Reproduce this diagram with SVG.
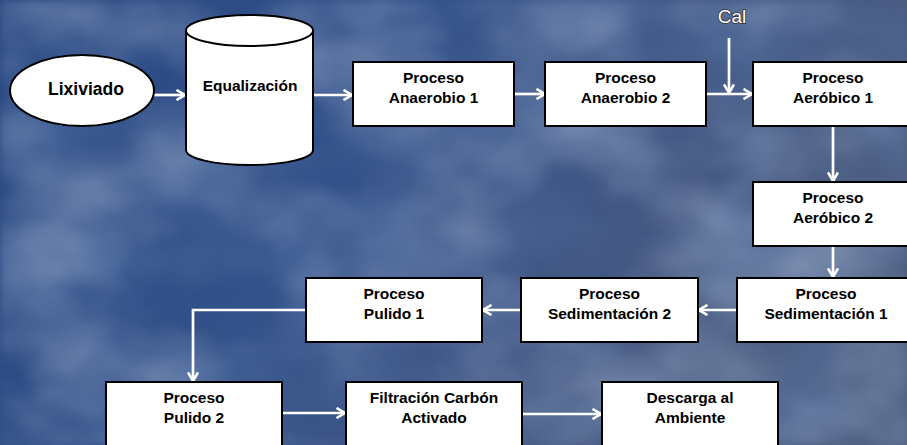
<svg xmlns="http://www.w3.org/2000/svg" width="907" height="445" viewBox="0 0 907 445">
  <defs>
    <linearGradient id="sky" x1="0" y1="0" x2="1" y2="0.3">
      <stop offset="0" stop-color="#26457f"/>
      <stop offset="0.45" stop-color="#34528a"/>
      <stop offset="0.8" stop-color="#445883"/>
      <stop offset="1" stop-color="#4d5e82"/>
    </linearGradient>
    <filter id="lightClouds" x="0" y="0" width="100%" height="100%">
      <feTurbulence type="fractalNoise" baseFrequency="0.006 0.009" numOctaves="4" seed="7"/>
      <feColorMatrix type="matrix" values="0 0 0 0 0.40  0 0 0 0 0.49  0 0 0 0 0.66  1.5 0 0 0 -0.62"/>
      <feGaussianBlur stdDeviation="4"/>
    </filter>
    <filter id="darkClouds" x="0" y="0" width="100%" height="100%">
      <feTurbulence type="fractalNoise" baseFrequency="0.007 0.01" numOctaves="3" seed="23"/>
      <feColorMatrix type="matrix" values="0 0 0 0 0.10  0 0 0 0 0.19  0 0 0 0 0.40  1.5 0 0 0 -0.62"/>
      <feGaussianBlur stdDeviation="4"/>
    </filter>
    <marker id="arrow" viewBox="0 0 12 12" refX="10.5" refY="6" markerWidth="12" markerHeight="12" markerUnits="userSpaceOnUse" orient="auto">
      <path d="M2,1 L10.5,6 L2,11" fill="none" stroke="#ffffff" stroke-width="2.6"/>
    </marker>
    <style>
      .box { fill: #ffffff; stroke: #000000; stroke-width: 2; }
      .lbl { font-family: "Liberation Sans", Arial, sans-serif; font-weight: bold; font-size: 15.5px; fill: #000000; text-anchor: middle; }
      .big { font-size: 17.5px; }
      .flow { fill: none; stroke: #ffffff; stroke-width: 2.7; marker-end: url(#arrow); }
      .cal { font-family: "Liberation Sans", Arial, sans-serif; font-size: 19px; fill: #ffffff; stroke: #333333; stroke-width: 1.6; paint-order: stroke; text-anchor: middle; }
    </style>
  </defs>

  <!-- cloudy blue backdrop -->
  <rect x="0" y="0" width="907" height="445" fill="url(#sky)"/>
  <rect x="0" y="0" width="907" height="445" filter="url(#darkClouds)" opacity="0.8"/>
  <rect x="0" y="0" width="907" height="445" filter="url(#lightClouds)" opacity="0.8"/>

  <!-- connectors -->
  <g id="connectors">
    <line class="flow" x1="154" y1="95" x2="185" y2="95"/>
    <line class="flow" x1="313" y1="95" x2="352" y2="95"/>
    <line class="flow" x1="514" y1="94" x2="545" y2="94"/>
    <line class="flow" x1="706" y1="94" x2="752" y2="94"/>
    <line class="flow" x1="729" y1="38" x2="729" y2="93"/>
    <line class="flow" x1="833" y1="126" x2="833" y2="181"/>
    <line class="flow" x1="833" y1="246" x2="833" y2="277"/>
    <line class="flow" x1="737" y1="310" x2="699" y2="310"/>
    <line class="flow" x1="521" y1="310" x2="483" y2="310"/>
    <polyline class="flow" points="306,310 193,310 193,381"/>
    <line class="flow" x1="282" y1="413" x2="345" y2="413"/>
    <line class="flow" x1="522" y1="414" x2="601" y2="414"/>
  </g>

  <text class="cal" x="732" y="23">Cal</text>

  <g id="lixiviado">
    <ellipse class="box" cx="82" cy="90.5" rx="72" ry="35.5"/>
    <text class="lbl big" x="86" y="95">Lixiviado</text>
  </g>

  <g id="equalizacion">
    <path class="box" d="M186,30.5 L186,150 A63.5,15 0 0 0 313,150 L313,30.5 A63.5,15.5 0 0 0 186,30.5 Z"/>
    <path d="M186,30.5 A63.5,15.5 0 0 0 313,30.5" fill="none" stroke="#000000" stroke-width="2"/>
    <text class="lbl" x="250" y="91">Equalización</text>
  </g>

  <g id="anaerobio1">
    <rect class="box" x="353" y="62" width="161" height="64"/>
    <text class="lbl" x="433.5" y="83">Proceso</text>
    <text class="lbl" x="433.5" y="103">Anaerobio 1</text>
  </g>

  <g id="anaerobio2">
    <rect class="box" x="545" y="62" width="161" height="64"/>
    <text class="lbl" x="625.5" y="83">Proceso</text>
    <text class="lbl" x="625.5" y="103">Anaerobio 2</text>
  </g>

  <g id="aerobico1">
    <rect class="box" x="753" y="62" width="161" height="64"/>
    <text class="lbl" x="833" y="83">Proceso</text>
    <text class="lbl" x="833" y="103">Aeróbico 1</text>
  </g>

  <g id="aerobico2">
    <rect class="box" x="753" y="182" width="161" height="64"/>
    <text class="lbl" x="833" y="203">Proceso</text>
    <text class="lbl" x="833" y="223">Aeróbico 2</text>
  </g>

  <g id="sedimentacion1">
    <rect class="box" x="737" y="278" width="177" height="64"/>
    <text class="lbl" x="826" y="299">Proceso</text>
    <text class="lbl" x="826" y="319">Sedimentación 1</text>
  </g>

  <g id="sedimentacion2">
    <rect class="box" x="521" y="278" width="177" height="64"/>
    <text class="lbl" x="609.5" y="299">Proceso</text>
    <text class="lbl" x="609.5" y="319">Sedimentación 2</text>
  </g>

  <g id="pulido1">
    <rect class="box" x="306" y="278" width="176" height="64"/>
    <text class="lbl" x="394" y="299">Proceso</text>
    <text class="lbl" x="394" y="319">Pulido 1</text>
  </g>

  <g id="pulido2">
    <rect class="box" x="106" y="382" width="176" height="70"/>
    <text class="lbl" x="194" y="403">Proceso</text>
    <text class="lbl" x="194" y="423">Pulido 2</text>
  </g>

  <g id="filtracion">
    <rect class="box" x="346" y="382" width="176" height="70"/>
    <text class="lbl" x="434" y="403">Filtración Carbón</text>
    <text class="lbl" x="434" y="423">Activado</text>
  </g>

  <g id="descarga">
    <rect class="box" x="602" y="382" width="176" height="70"/>
    <text class="lbl" x="690" y="403">Descarga al</text>
    <text class="lbl" x="690" y="423">Ambiente</text>
  </g>
</svg>
